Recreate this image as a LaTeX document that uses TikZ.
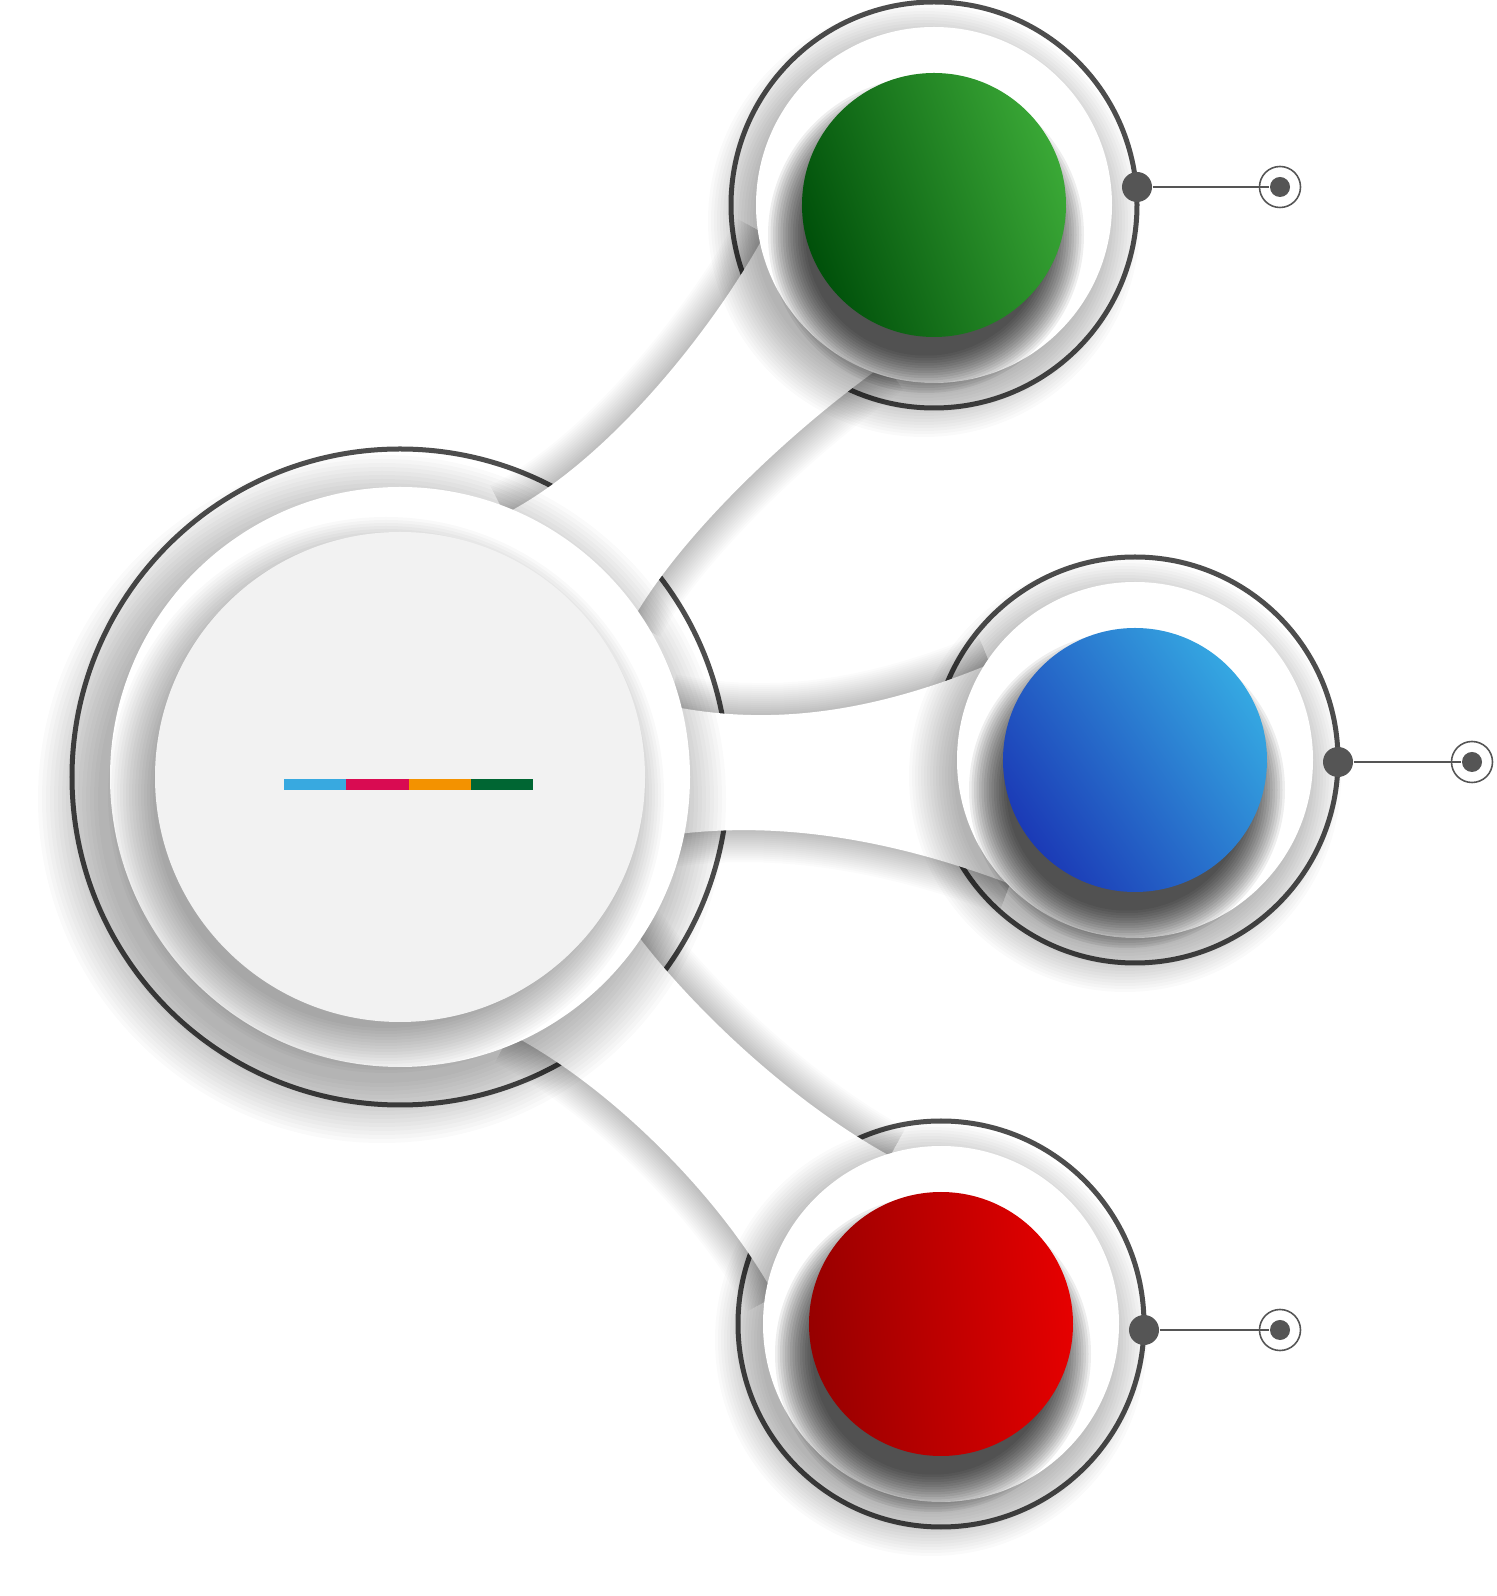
\documentclass[tikz,border=0pt]{standalone}
\usepackage{xcolor}
\usepackage{tikz}
\usetikzlibrary{positioning}

\definecolor{ringgrey}{HTML}{4D4D4D}
\definecolor{pingrey}{HTML}{555555}
\definecolor{facegrey}{HTML}{F2F2F2}
\definecolor{greendark}{HTML}{00500A}
\definecolor{greenlight}{HTML}{3AA836}
\definecolor{bluedark}{HTML}{1B3AB6}
\definecolor{bluelight}{HTML}{35A8E2}
\definecolor{reddark}{HTML}{960000}
\definecolor{redlight}{HTML}{E60000}
\definecolor{barblue}{HTML}{38A9E0}
\definecolor{barred}{HTML}{D90B52}
\definecolor{barorange}{HTML}{F39200}
\definecolor{bargreen}{HTML}{006633}

\begin{document}
\begin{tikzpicture}[x=0.01cm,y=0.01cm,
 ring/.style={draw=ringgrey,line width=0.5mm},
 band/.style={fill=white},
 bandshade/.style={draw=black,opacity=0.014},
 discshade/.style={fill=black,opacity=0.018},
 pindot/.style={circle,fill=pingrey,inner sep=0pt,minimum size=3mm},
 pinring/.style={circle,draw=pingrey,line width=0.45pt,inner sep=0pt,minimum size=4.1mm},
 pincore/.style={circle,fill=pingrey,inner sep=0pt,minimum size=2mm},
 pinline/.style={draw=pingrey,line width=0.45pt}]
\useasboundingbox[fill=white] (0,0) rectangle (1497,1596);

\coordinate (hub) at (400,819);
\coordinate (green) at (934,1391);
\coordinate (blue) at (1135,836);
\coordinate (red) at (941,272);

\draw[ring] (hub) circle (328);
\foreach \c in {green,blue,red} \draw[ring] (\c) circle (203);

\foreach \w in {4,8,...,64}{
  \draw[bandshade,line width=\w*0.1mm] (505,1082) .. controls (610,1136) and (715,1270) .. (765,1362);
  \draw[bandshade,line width=\w*0.1mm] (632,975) .. controls (680,1060) and (790,1165) .. (885,1232);
  \draw[bandshade,line width=\w*0.1mm] (670,890) .. controls (760,872) and (860,878) .. (990,932);
  \draw[bandshade,line width=\w*0.1mm] (670,761) .. controls (760,773) and (870,765) .. (1010,712);
  \draw[bandshade,line width=\w*0.1mm] (632,668) .. controls (690,590) and (790,495) .. (890,440);
  \draw[bandshade,line width=\w*0.1mm] (510,562) .. controls (610,510) and (720,400) .. (775,300);
}
\fill[band] (hub) -- (505,1082) .. controls (610,1136) and (715,1270) .. (765,1362) -- (green)
  -- (885,1232) .. controls (790,1165) and (680,1060) .. (632,975) -- cycle;
\fill[band] (hub) -- (670,890) .. controls (760,872) and (860,878) .. (990,932) -- (blue)
  -- (1010,712) .. controls (870,765) and (760,773) .. (670,761) -- cycle;
\fill[band] (hub) -- (632,668) .. controls (690,590) and (790,495) .. (890,440) -- (red)
  -- (775,300) .. controls (720,400) and (610,510) .. (510,562) -- cycle;

\foreach \k in {1,...,16} \fill[discshade] ([shift={(-18,-22)}]hub) circle ({280+\k*4});
\foreach \c in {green,blue,red}
  \foreach \k in {1,...,16} \fill[discshade] ([shift={(-10,-16)}]\c) circle ({168+\k*3});

\fill[white] (hub) circle (290);
\foreach \c in {green,blue,red} \fill[white] (\c) circle (178);

\foreach \k in {1,...,16} \fill[black,opacity=0.025] ([shift={(-14,-18)}]hub) circle ({230+\k*3});
\foreach \c in {green,blue,red}
  \foreach \k in {1,...,16} \fill[black,opacity=0.065] ([shift={(-8,-30)}]\c) circle ({118+\k*2.5});

\fill[facegrey] (hub) circle (245);
\shade[left color=greendark,right color=greenlight,shading angle=110] (green) circle (132);
\shade[left color=bluedark,right color=bluelight,shading angle=125] (blue) circle (132);
\shade[left color=reddark,right color=redlight,shading angle=95] (red) circle (132);

\foreach \col [count=\i from 0] in {barblue,barred,barorange,bargreen}
  \fill[\col] ({284+\i*62.25},806) rectangle ++(62.25,11);

\foreach \n/\a/\b/\y in {g/1137/1280/1409,b/1338/1472/834,r/1144/1280/266}{
  \node[pindot] (\n dot) at (\a,\y) {};
  \node[pinring] (\n ring) at (\b,\y) {};
  \node[pincore] (\n core) at (\b,\y) {};
  \draw[pinline] (\n dot) -- (\n core);
}
\end{tikzpicture}
\end{document}
